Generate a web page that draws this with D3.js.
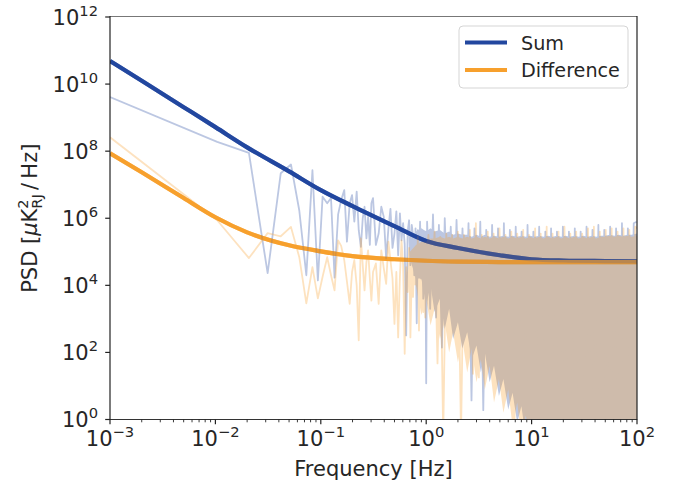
<!DOCTYPE html>
<html>
<head>
<meta charset="utf-8">
<script src="https://cdn.jsdelivr.net/npm/d3@7"></script>
<style>
  html, body { margin: 0; padding: 0; background: #fff; }
  svg { display: block; font-family: "DejaVu Sans", sans-serif; }
</style>
</head>
<body>
<div id="chart"></div>
<script>
// ---------------------------------------------------------------------------
// Data
// ---------------------------------------------------------------------------

// smooth noise models
const modelFreq = [0.001, 0.002, 0.005, 0.01, 0.02, 0.05, 0.1, 0.2, 0.5, 1, 2, 5, 10, 20, 50, 100];
const sumModel  = [4.9e10, 1.25e10, 2.05e9, 5.2e8, 1.3e8, 2.5e7, 6.9e6, 2.3e6, 5.8e5, 2.1e5, 1.3e5, 7.9e4, 6.0e4, 5.5e4, 5.3e4, 5.2e4];
const diffModel = [8.7e7, 2.35e7, 4.0e6, 1.07e6, 3.8e5, 1.56e5, 1.03e5, 7.4e4, 6.0e4, 5.4e4, 5.1e4, 4.95e4, 4.9e4, 4.9e4, 4.9e4, 4.9e4];

// periodograms, low-frequency part (distinct spikes)
const lowFreq = [0.001, 0.0104, 0.0208, 0.0313, 0.0417, 0.0521, 0.0625, 0.0729, 0.0833, 0.0938,
  0.104, 0.115, 0.125, 0.135, 0.146, 0.156, 0.167, 0.177, 0.188, 0.198,
  0.208, 0.219, 0.229, 0.24, 0.25, 0.26, 0.271, 0.281, 0.292, 0.302,
  0.313, 0.333, 0.354, 0.375, 0.396, 0.417, 0.438, 0.458, 0.479, 0.5,
  0.521, 0.542, 0.563, 0.583, 0.604, 0.625, 0.646, 0.667, 0.688, 0.708,
  0.729, 0.75, 0.771, 0.792, 0.813, 0.833, 0.854, 0.875, 0.896, 0.917,
  0.938, 0.958, 0.979, 1.0];
const sumLow = [4.1e9, 1.9e8, 8.9e7, 2.3e4, 2.2e7, 4.0e7, 1.7e6, 2.0e4, 2.7e7, 1.4e4,
  4.4e6, 2.8e6, 4.0e6, 1.7e4, 1.3e6, 3.5e6, 6.9e6, 2.0e5, 2.8e6, 4.9e6,
  7.9e5, 6.2e6, 4.4e5, 1.4e5, 1.0e6, 2.2e6, 2.5e5, 1.1e6, 1.6e5, 2.8e6,
  4.0e6, 1.6e5, 3.5e5, 2.2e6, 1.1e6, 6.3e4, 5.0e5, 1.9e6, 1.3e5, 3.5e5,
  1.6e6, 7.9e4, 1.4e6, 2.2e5, 7.1e5, 1.7e5, 3.2e2, 4.0e5, 8.7e5, 4.0e4,
  6.3e5, 3.2e5, 2.0e4, 5.0e5, 7.4e2, 4.4e5, 5.0e4, 7.9e5, 1.6e4, 3.2e5,
  4.0e3, 2.0e5, 4.0e5, 12];
const diffLow = [2.6e8, 8.7e5, 6.5e4, 3.6e5, 2.9e5, 5.5e5, 6.9e4, 2.9e3, 3.5e4, 4.1e3,
  1.8e4, 6.9e4, 2.0e4, 7.1e3, 2.2e5, 1.5e5, 5.6e4, 1.3e4, 2.8e3, 2.5e4,
  5.6e4, 1.0e4, 2.3e2, 2.5e5, 4.0e4, 7.1e3, 5.0e4, 1.1e5, 1.6e4, 3.5e3,
  2.5e4, 4.5e4, 2.8e3, 1.1e5, 3.2e4, 1.1e4, 2.0e5, 5.6e4, 1.6e4, 7.1e2,
  2.5e4, 2.8e2, 1.8e4, 2.2e5, 4.0e4, 91, 3.5e4, 6.3e3, 1.3e5, 2.8e2,
  2.0e4, 4.5e3, 7.9e4, 1.1e5, 1.0e4, 2.8e5, 4.5e2, 5.0e4, 7.1e3, 1.6e5,
  1.6e3, 4.0e4, 1.1e3, 6.3e4];

// periodograms above 1 Hz: alternating upper / lower spike tips
const sumSpikeFreq = [1.02, 1.09, 1.16, 1.24, 1.32, 1.41, 1.5, 1.6, 1.71, 1.82,
  1.94, 2.07, 2.21, 2.36, 2.52, 2.69, 2.87, 3.06, 3.26, 3.48,
  3.71, 3.96, 4.22, 4.5, 4.8, 5.12, 5.46, 5.83, 6.22, 6.63,
  7.07, 7.54, 8.04, 8.58, 9.15, 9.76, 10.4, 11.1, 11.8, 12.6,
  13.5, 14.4, 15.3, 16.4, 17.4, 18.6, 19.8, 21.2, 22.6, 24.1,
  25.7, 27.4, 29.2, 31.2, 33.2, 35.4, 37.8, 40.3, 43.0, 45.9,
  48.9, 52.2, 55.6, 59.3, 63.3, 67.5, 72.0, 76.8, 81.9, 87.3,
  93.1, 99.3];
const sumSpike = [7.9e5, 2.0e3, 1.3e6, 1.1e3, 6.3e5, 1.4e2, 1.0e6, 2.5e3, 5.6e5, 7.9e2,
  8.9e5, 1.3e3, 5.0e5, 4.0e2, 7.1e5, 3.7, 5.0e5, 2.5e2, 7.9e5, 1.9,
  4.5e5, 29, 6.3e5, 1.6e2, 5.0e5, 18, 7.1e5, 14, 4.5e5, 9.1,
  5.6e5, 63, 4.0e5, 0.3, 6.3e5, 23, 4.0e5, 3.7, 5.6e5, 0.3,
  4.0e5, 0.3, 5.0e5, 0.3, 4.0e5, 0.3, 5.6e5, 0.3, 4.0e5, 0.3,
  5.0e5, 0.3, 4.0e5, 0.3, 5.6e5, 0.3, 4.5e5, 0.3, 6.3e5, 0.3,
  4.5e5, 0.3, 5.6e5, 0.3, 5.0e5, 0.3, 7.1e5, 0.3, 5.0e5, 0.3,
  7.1e5, 7.9e5];
const diffSpikeFreq = [1.05, 1.12, 1.2, 1.28, 1.36, 1.45, 1.55, 1.65, 1.76, 1.88,
  2.0, 2.14, 2.28, 2.44, 2.6, 2.78, 2.96, 3.16, 3.37, 3.6,
  3.84, 4.09, 4.36, 4.65, 4.96, 5.29, 5.65, 6.02, 6.42, 6.85,
  7.31, 7.8, 8.32, 8.87, 9.46, 10.1, 10.8, 11.5, 12.2, 13.0,
  13.9, 14.8, 15.8, 16.9, 18.0, 19.2, 20.5, 21.9, 23.3, 24.9,
  26.5, 28.3, 30.2, 32.2, 34.3, 36.6, 39.0, 41.6, 44.4, 47.4,
  50.5, 53.9, 57.5, 61.3, 65.4, 69.7, 74.4, 79.3, 84.6, 90.2,
  96.2, 100];
const diffSpike = [3.2e5, 4.0e3, 4.0e5, 47, 2.8e5, 0.3, 3.5e5, 7.9e2, 3.2e5, 6.3e2,
  4.0e5, 0.3, 3.2e5, 71, 4.5e5, 23, 7.1e5, 18, 3.2e5, 2.0e2,
  4.0e5, 1.4e2, 3.5e5, 79, 5.0e5, 32, 3.2e5, 91, 4.0e5, 0.3,
  3.5e5, 50, 4.5e5, 10, 3.2e5, 0.3, 5.0e5, 2.5, 3.5e5, 0.3,
  5.6e5, 0.3, 3.5e5, 0.3, 4.0e5, 0.3, 5.6e5, 0.3, 3.5e5, 0.3,
  4.0e5, 0.3, 3.5e5, 0.3, 5.0e5, 0.3, 5.6e5, 0.3, 4.0e5, 0.3,
  4.5e5, 0.3, 5.0e5, 0.3, 4.0e5, 0.3, 5.0e5, 0.3, 4.5e5, 0.3,
  5.6e5, 5.0e5];

// periodograms, dense high-frequency body (upper / lower edge)
const bandFreq = [0.7, 0.8, 0.9, 1.0, 1.1, 1.2, 1.35, 1.5, 1.65, 1.8,
  2.0, 2.2, 2.45, 2.7, 3.0, 3.3, 3.6, 4.0, 4.4, 4.9,
  5.4, 6.0, 6.6, 7.3, 8.0, 8.8, 9.7, 10.7, 11.8, 13,
  14.3, 15.8, 17.4, 19.2, 21, 23, 25.5, 28, 31, 34,
  37.5, 41, 45.5, 50, 55, 61, 67, 74, 81, 89,
  100];
const sumBandHigh = [2.0e5, 4.0e5, 5.0e5, 4.0e5, 5.0e5, 4.0e5, 4.5e5, 3.5e5, 4.0e5, 3.2e5,
  3.5e5, 3.2e5, 3.2e5, 2.8e5, 3.2e5, 2.8e5, 3.2e5, 2.8e5, 3.0e5, 2.8e5,
  3.0e5, 2.8e5, 3.0e5, 2.8e5, 3.0e5, 2.8e5, 3.0e5, 2.8e5, 3.0e5, 2.8e5,
  3.0e5, 2.8e5, 3.0e5, 2.8e5, 3.0e5, 2.8e5, 3.0e5, 2.8e5, 3.0e5, 2.8e5,
  3.0e5, 2.8e5, 3.0e5, 3.0e5, 3.2e5, 3.0e5, 3.2e5, 3.0e5, 3.2e5, 3.2e5,
  3.5e5];
const sumBandLow = [6.3e4, 1.6e4, 1.6e4, 2.5e3, 1.0e4, 1.6e3, 4.0e3, 5.0e2, 2.0e3, 2.5e2,
  7.9e2, 1.3e2, 4.0e2, 63, 1.6e2, 25, 1.0e2, 13, 40, 5.0,
  16, 2.0, 6.3, 0.8, 2.5, 0.3, 0.8, 0.3, 0.3, 0.3,
  0.3, 0.3, 0.3, 0.3, 0.3, 0.3, 0.3, 0.3, 0.3, 0.3,
  0.3, 0.3, 0.3, 0.3, 0.3, 0.3, 0.3, 0.3, 0.3, 0.3,
  0.3];
const diffBandHigh = [1.0e5, 1.6e5, 2.0e5, 2.0e5, 2.5e5, 2.5e5, 2.8e5, 2.5e5, 2.8e5, 2.5e5,
  2.8e5, 2.5e5, 2.8e5, 2.5e5, 2.8e5, 2.5e5, 2.8e5, 2.5e5, 2.8e5, 2.5e5,
  2.8e5, 2.5e5, 2.8e5, 2.5e5, 2.8e5, 2.5e5, 2.8e5, 2.5e5, 2.8e5, 2.5e5,
  2.8e5, 2.5e5, 2.8e5, 2.5e5, 2.8e5, 2.5e5, 2.8e5, 2.5e5, 2.8e5, 2.5e5,
  2.8e5, 2.5e5, 2.8e5, 2.8e5, 3.0e5, 2.8e5, 3.0e5, 2.8e5, 3.0e5, 2.8e5,
  3.0e5];
const diffBandLow = [1.0e4, 1.0e4, 1.3e3, 4.0e3, 6.3e2, 2.0e3, 2.5e2, 7.9e2, 1.0e2, 4.0e2,
  50, 2.5e2, 25, 1.3e2, 13, 63, 7.9, 40, 3.2, 16,
  1.6, 7.9, 0.6, 3.2, 0.3, 1.3, 0.3, 0.5, 0.3, 0.3,
  0.3, 0.3, 0.3, 0.3, 0.3, 0.3, 0.3, 0.3, 0.3, 0.3,
  0.3, 0.3, 0.3, 0.3, 0.3, 0.3, 0.3, 0.3, 0.3, 0.3,
  0.3];

const xTickExp = [-3, -2, -1, 0, 1, 2];
const yTickExp = [0, 2, 4, 6, 8, 10, 12];
const seriesNames = ['Sum', 'Difference'];

// ---------------------------------------------------------------------------
// Layout
// ---------------------------------------------------------------------------
const W = 681, H = 483;
const L = 110, R = 637, T = 17, B = 419.5;
const BLUE = '#22479f', ORANGE = '#f7a02d';
const FONT = 21;
const NOISE_ALPHA = 0.3;

const x = d3.scaleLog().domain([1e-3, 1e2]).range([L, R]);
const y = d3.scaleLog().domain([1e0, 1e12]).range([B, T]);

const svg = d3.select('#chart').append('svg')
    .attr('width', W).attr('height', H)
    .attr('viewBox', `0 0 ${W} ${H}`);

svg.append('defs').append('clipPath').attr('id', 'plotclip')
  .append('rect').attr('x', L).attr('y', T).attr('width', R - L).attr('height', B - T);

const plot = svg.append('g').attr('clip-path', 'url(#plotclip)');

const zip = (fs, vs) => fs.map((f, i) => [f, vs[i]]);
const line = d3.line().x(d => x(d[0])).y(d => y(d[1]));
const smooth = d3.line().curve(d3.curveMonotoneX).x(d => x(d[0])).y(d => y(d[1]));
const band = d3.area().x(d => x(d[0])).y0(d => y(d[1])).y1(d => y(d[2]));

function drawModels(opacity) {
    plot.append('path')
        .attr('d', smooth(zip(modelFreq, sumModel)))
        .attr('fill', 'none').attr('stroke', BLUE).attr('stroke-width', 4.2)
        .attr('opacity', opacity);
    plot.append('path')
        .attr('d', smooth(zip(modelFreq, diffModel)))
        .attr('fill', 'none').attr('stroke', ORANGE).attr('stroke-width', 4.2)
        .attr('opacity', opacity);
}

// ── model curves ─────────────────────────────────────────────────────────────
drawModels(1);

// ── periodograms (drawn over the curves, translucent) ───────────────────────
// one group per series so that overlapping strokes of the same series
// do not darken each other; only the two series blend
function drawNoise(color, lowVals, spikeF, spikeV, hi, lo) {
    const g = plot.append('g').attr('opacity', NOISE_ALPHA);
    g.append('path')
        .attr('d', band(bandFreq.map((f, i) => [f, lo[i], hi[i]])))
        .attr('fill', color);
    const pts = zip(lowFreq, lowVals).concat(zip(spikeF, spikeV));
    g.append('path')
        .attr('d', line(pts))
        .attr('fill', 'none')
        .attr('stroke', color)
        .attr('stroke-width', 1.8)
        .attr('stroke-linejoin', 'round');
}
drawNoise(BLUE,   sumLow,  sumSpikeFreq,  sumSpike,  sumBandHigh,  sumBandLow);
drawNoise(ORANGE, diffLow, diffSpikeFreq, diffSpike, diffBandHigh, diffBandLow);

// the real periodogram lines are sparse, so the curves still show through
drawModels(0.55);

// ── spines ──────────────────────────────────────────────────────────────────
svg.append('line').attr('x1', L).attr('x2', R).attr('y1', T - 0.5).attr('y2', T - 0.5)
    .attr('stroke', '#777').attr('stroke-width', 1.2);
svg.append('line').attr('x1', L).attr('x2', R).attr('y1', B).attr('y2', B)
    .attr('stroke', '#333').attr('stroke-width', 1.2);
svg.append('line').attr('x1', L).attr('x2', L).attr('y1', T - 1).attr('y2', B + 0.5)
    .attr('stroke', '#222').attr('stroke-width', 1.2);
svg.append('line').attr('x1', R).attr('x2', R).attr('y1', T - 1).attr('y2', B + 0.5)
    .attr('stroke', '#222').attr('stroke-width', 1.2);

// ── x ticks ─────────────────────────────────────────────────────────────────
const minorX = [];
xTickExp.slice(0, -1).forEach(e => {
    for (let m = 2; m <= 9; m++) minorX.push(m * Math.pow(10, e));
});
svg.selectAll('line.xminor').data(minorX).enter().append('line')
    .attr('class', 'xminor')
    .attr('x1', d => x(d)).attr('x2', d => x(d))
    .attr('y1', B).attr('y2', B + 2.8)
    .attr('stroke', '#222').attr('stroke-width', 0.9);
svg.selectAll('line.xmajor').data(xTickExp).enter().append('line')
    .attr('class', 'xmajor')
    .attr('x1', d => x(Math.pow(10, d))).attr('x2', d => x(Math.pow(10, d)))
    .attr('y1', B).attr('y2', B + 4.8)
    .attr('stroke', '#222').attr('stroke-width', 1.2);

function powLabel(sel, e) {
    sel.append('tspan').text('10');
    sel.append('tspan')
        .attr('dy', -9)
        .attr('font-size', FONT * 0.7)
        .text(String(e).replace('-', '\u2212'));
}

svg.selectAll('text.xlab').data(xTickExp).enter().append('text')
    .attr('class', 'xlab')
    .attr('x', d => x(Math.pow(10, d)))
    .attr('y', 446)
    .attr('text-anchor', 'middle')
    .attr('font-size', FONT)
    .attr('fill', '#262626')
    .each(function (d) { powLabel(d3.select(this), d); });

// ── y ticks ─────────────────────────────────────────────────────────────────
svg.selectAll('line.ymajor').data(yTickExp).enter().append('line')
    .attr('class', 'ymajor')
    .attr('x1', L - 4.8).attr('x2', L)
    .attr('y1', d => y(Math.pow(10, d))).attr('y2', d => y(Math.pow(10, d)))
    .attr('stroke', '#222').attr('stroke-width', 1.2);

svg.selectAll('text.ylab').data(yTickExp).enter().append('text')
    .attr('class', 'ylab')
    .attr('x', 98)
    .attr('y', d => y(Math.pow(10, d)) + 7.6)
    .attr('text-anchor', 'end')
    .attr('font-size', FONT)
    .attr('fill', '#262626')
    .each(function (d) { powLabel(d3.select(this), d); });

// ── axis titles ─────────────────────────────────────────────────────────────
svg.append('text')
    .attr('x', (L + R) / 2).attr('y', 476)
    .attr('text-anchor', 'middle')
    .attr('font-size', FONT)
    .attr('fill', '#262626')
    .text('Frequency [Hz]');

const yt = svg.append('text')
    .attr('transform', `translate(37, ${(T + B) / 2}) rotate(-90)`)
    .attr('text-anchor', 'middle')
    .attr('font-size', FONT)
    .attr('fill', '#262626');
yt.append('tspan').text('PSD [');
yt.append('tspan').attr('font-style', 'italic').text('\u03bc');
yt.append('tspan').text('K');
yt.append('tspan').attr('dy', -9).attr('font-size', FONT * 0.7).text('2');
yt.append('tspan').attr('dx', -FONT * 0.7 * 0.636).attr('dy', 14).attr('font-size', FONT * 0.7).text('RJ');
yt.append('tspan').attr('dy', -5).text('\u2009/\u2009Hz]');

// ── legend ──────────────────────────────────────────────────────────────────
const leg = svg.append('g');
leg.append('rect')
    .attr('x', 459).attr('y', 26).attr('width', 169).attr('height', 62)
    .attr('rx', 4)
    .attr('fill', 'rgba(255,255,255,0.8)')
    .attr('stroke', '#d5d5d5').attr('stroke-width', 1);
[BLUE, ORANGE].forEach((c, i) => {
    const yy = 42.5 + i * 27.5;
    leg.append('line')
        .attr('x1', 465).attr('x2', 507).attr('y1', yy).attr('y2', yy)
        .attr('stroke', c).attr('stroke-width', 4.2);
    leg.append('text')
        .attr('x', 521).attr('y', yy + 7)
        .attr('font-size', 19.2)
        .attr('fill', '#262626')
        .text(seriesNames[i]);
});
</script>
</body>
</html>
